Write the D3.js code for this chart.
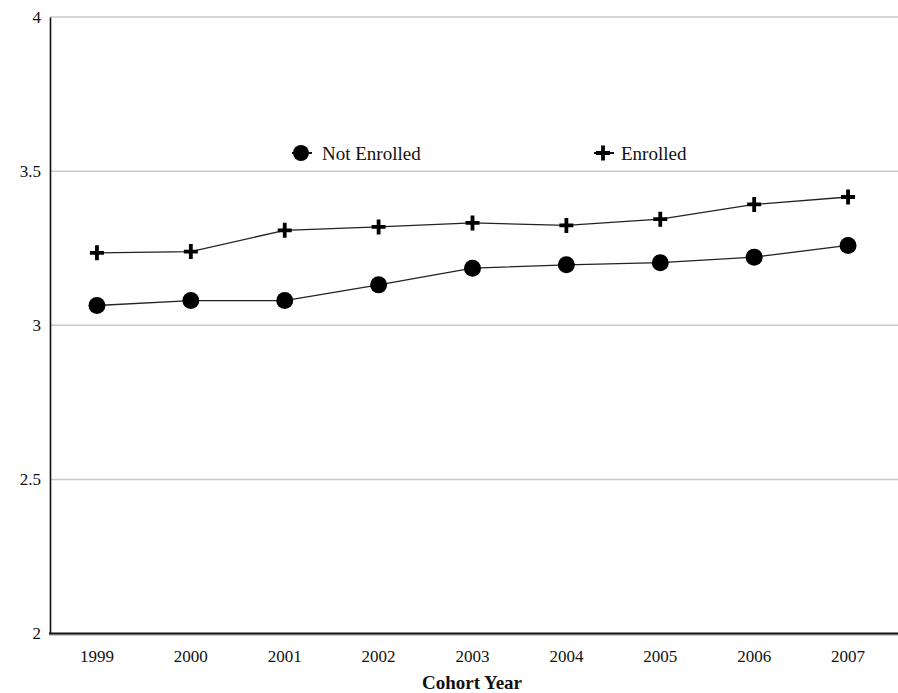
<!DOCTYPE html>
<html><head><meta charset="utf-8">
<script src="https://cdn.jsdelivr.net/npm/d3@7"></script>
<style>
html,body{margin:0;padding:0;background:#fff;}
svg{display:block;}
text{font-family:"Liberation Serif","Times New Roman",serif;fill:#111;}
</style></head>
<body>
<svg id="chart" width="898" height="693"></svg>
<script>
const years = ["1999","2000","2001","2002","2003","2004","2005","2006","2007"];
const notEnrolled = [3.064, 3.080, 3.080, 3.131, 3.185, 3.196, 3.203, 3.221, 3.259];
const enrolled = [3.235, 3.239, 3.308, 3.319, 3.332, 3.324, 3.344, 3.392, 3.416];
const yTicks = [2, 2.5, 3, 3.5, 4];
const seriesNames = ["Not Enrolled", "Enrolled"];

const svg = d3.select("#chart");
const x = d3.scaleBand().domain(years).range([50, 895]).padding(0);
const y = d3.scaleLinear().domain([2, 4]).range([633.5, 17]);

// gridlines
svg.append("g").selectAll("line").data(yTicks.filter(d => d > 2)).join("line")
  .attr("x1", 50).attr("x2", 898)
  .attr("y1", d => y(d)).attr("y2", d => y(d))
  .attr("stroke", "#c8c8c8").attr("stroke-width", 1.5);

// y axis
const yAxis = svg.append("g").attr("transform", "translate(50,0)")
  .call(d3.axisLeft(y).tickValues(yTicks).tickSize(0).tickPadding(9).tickFormat(d3.format("")));
yAxis.select(".domain").attr("stroke", "#111").attr("stroke-width", 1.6);
yAxis.selectAll("text").style("font-size", "17px");

// x axis
const xAxis = svg.append("g").attr("transform", `translate(0,${y(2)})`)
  .call(d3.axisBottom(x).tickSize(0).tickPadding(16));
xAxis.select(".domain").remove();
xAxis.selectAll("text").style("font-size", "17px");
svg.append("line").attr("x1", 49).attr("x2", 898).attr("y1", y(2) + 1.5).attr("y2", y(2) + 1.5)
  .attr("stroke", "#bbb").attr("stroke-width", 1.5);
svg.append("line").attr("x1", 49).attr("x2", 898).attr("y1", y(2)).attr("y2", y(2))
  .attr("stroke", "#111").attr("stroke-width", 2);

svg.append("text").attr("x", 472).attr("y", 689).attr("text-anchor", "middle")
  .style("font-size", "19px").style("font-weight", "bold").text("Cohort Year");

const cx = d => x(d) + x.bandwidth() / 2;
const line = d3.line().x(d => cx(d.year)).y(d => y(d.v));

function draw(values, kind) {
  const data = years.map((yr, i) => ({year: yr, v: values[i]}));
  svg.append("path").datum(data).attr("d", line)
    .attr("fill", "none").attr("stroke", "#222").attr("stroke-width", 1.3);
  const g = svg.append("g");
  if (kind === "circle") {
    g.selectAll("circle").data(data).join("circle")
      .attr("cx", d => cx(d.year)).attr("cy", d => y(d.v)).attr("r", 8.5).attr("fill", "#000");
  } else {
    g.selectAll("path").data(data).join("path")
      .attr("transform", d => `translate(${cx(d.year)},${y(d.v)})`)
      .attr("d", "M-7,0H7M0,-7.5V7.5").attr("stroke", "#000").attr("stroke-width", 3.8).attr("fill", "none");
  }
}
draw(enrolled, "plus");
draw(notEnrolled, "circle");

// legend
const legend = [
  {name: seriesNames[0], mx: 301, tx: 322, kind: "circle"},
  {name: seriesNames[1], mx: 603, tx: 621, kind: "plus"}
];
const ly = 153;
legend.forEach(l => {
  svg.append("line").attr("x1", l.mx - 9).attr("x2", l.mx + 11).attr("y1", ly).attr("y2", ly)
    .attr("stroke", "#111").attr("stroke-width", 2);
  if (l.kind === "circle") {
    svg.append("circle").attr("cx", l.mx).attr("cy", ly).attr("r", 8).attr("fill", "#000");
  } else {
    svg.append("path").attr("transform", `translate(${l.mx},${ly})`)
      .attr("d", "M-7,0H7M0,-7.5V7.5").attr("stroke", "#000").attr("stroke-width", 3.8);
  }
  svg.append("text").attr("x", l.tx).attr("y", ly).attr("dy", "0.35em")
    .style("font-size", "19px").text(l.name);
});
</script>
</body></html>
